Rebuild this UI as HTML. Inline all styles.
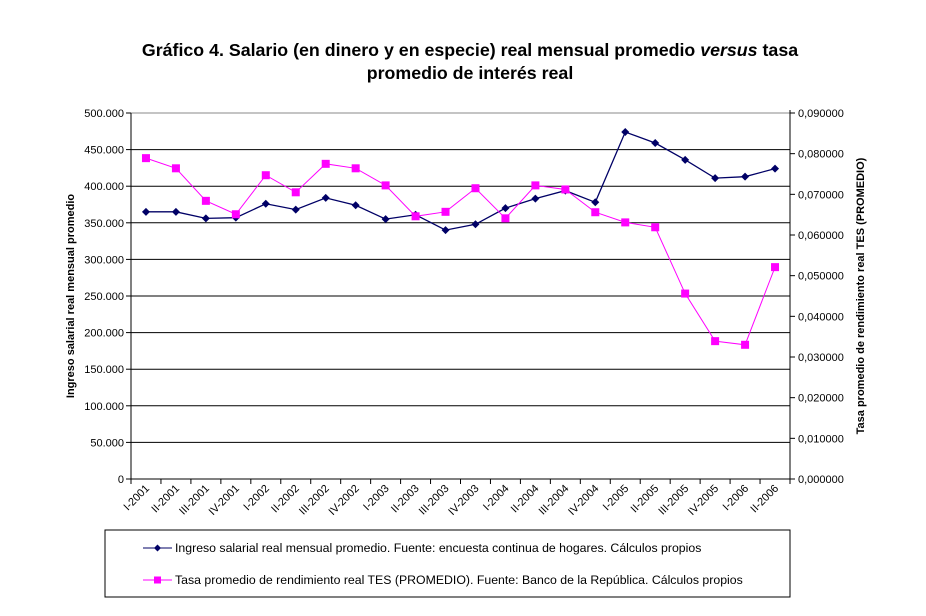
<!DOCTYPE html>
<html><head><meta charset="utf-8"><style>
body{margin:0;background:#fff;font-family:"Liberation Sans",Arial,sans-serif}
svg text{font-family:"Liberation Sans",Arial,sans-serif}
</style></head><body>
<svg id="c" width="926" height="611" xmlns="http://www.w3.org/2000/svg">
<text x="470" y="56" text-anchor="middle" font-size="17.8" font-weight="bold">Gráfico 4. Salario (en dinero y en especie) real mensual promedio <tspan font-style="italic">versus</tspan> tasa</text>
<text x="470" y="79" text-anchor="middle" font-size="17.8" font-weight="bold">promedio de interés real</text>
<g id="grid"></g><g id="axes"></g><g id="marks"></g>
<text transform="translate(74,296) rotate(-90)" text-anchor="middle" font-size="11" font-weight="bold">Ingreso salarial real mensual promedio</text>
<text transform="translate(864,296) rotate(-90)" text-anchor="middle" font-size="11" font-weight="bold">Tasa promedio de rendimiento real TES (PROMEDIO)</text>
<rect x="105" y="530" width="685" height="67" fill="none" stroke="#000" stroke-width="1"/>
<g>
<line x1="143" y1="548" x2="172" y2="548" stroke="#000066" stroke-width="1"/>
<path d="M157.5 544.5 L161 548 L157.5 551.5 L154 548Z" fill="#000066"/>
<text x="175" y="552" font-size="12.3">Ingreso salarial real mensual promedio. Fuente: encuesta continua de hogares. Cálculos propios</text>
</g>
<g>
<line x1="143" y1="580" x2="172" y2="580" stroke="#ff00ff" stroke-width="1"/>
<rect x="154" y="576.5" width="7" height="7" fill="#ff00ff"/>
<text x="175" y="584" font-size="12.3">Tasa promedio de rendimiento real TES (PROMEDIO). Fuente: Banco de la República. Cálculos propios</text>
</g>
</svg>
<script>
const categories=["I-2001","II-2001","III-2001","IV-2001","I-2002","II-2002","III-2002","IV-2002","I-2003","II-2003","III-2003","IV-2003","I-2004","II-2004","III-2004","IV-2004","I-2005","II-2005","III-2005","IV-2005","I-2006","II-2006"];
const salary=[365000,365000,356000,357000,376000,368000,384000,374000,355000,361000,340000,348000,370000,383000,394000,378000,474000,459000,436000,411000,413000,424000];
const tes=[0.0789,0.0764,0.0684,0.0651,0.0747,0.0705,0.0775,0.0764,0.0722,0.0646,0.0657,0.0715,0.0641,0.0722,0.0712,0.0656,0.0631,0.0619,0.0456,0.0339,0.0330,0.0521];
const leftTicks=["0","50.000","100.000","150.000","200.000","250.000","300.000","350.000","400.000","450.000","500.000"];
const rightTicks=["0,000000","0,010000","0,020000","0,030000","0,040000","0,050000","0,060000","0,070000","0,080000","0,090000"];
const X0=131,X1=790,Y0=479,Y1=113,NS="http://www.w3.org/2000/svg";
const n=categories.length,step=(X1-X0)/n;
const xs=i=>X0+step*(i+0.5);
const yl=v=>Y0-(v/500000)*(Y0-Y1);
const yr=v=>Y0-(v/0.09)*(Y0-Y1);
function mk(tag,attrs,parent,txt){const e=document.createElementNS(NS,tag);for(const k in attrs)e.setAttribute(k,attrs[k]);if(txt!==undefined)e.textContent=txt;document.getElementById(parent).appendChild(e);return e;}
leftTicks.forEach((t,i)=>{const v=i*50000,y=yl(v);
 if(i>0){const g=mk('line',{x1:X0,x2:X1,y1:y,y2:y,stroke:i==10?'#888':'#000','stroke-width':1},'grid');
 
 }
 mk('line',{x1:X0-5,x2:X0,y1:y,y2:y,stroke:'#000'},'axes');
 const l=mk('text',{x:X0-7,y:y+4,'text-anchor':'end','font-size':11},'axes',t);
 
 });
rightTicks.forEach((t,i)=>{const y=yr(i*0.01);
 mk('line',{x1:X1,x2:X1+5,y1:y,y2:y,stroke:'#000'},'axes');
 const l=mk('text',{x:X1+8,y:y+4,'font-size':11},'axes',t);
 
 });
mk('line',{x1:X0,x2:X0,y1:Y1,y2:Y0,stroke:'#000'},'axes');
mk('line',{x1:X1,x2:X1,y1:Y1-3,y2:Y0+3,stroke:'#000'},'axes');
mk('line',{x1:X0,x2:X1,y1:Y0,y2:Y0,stroke:'#000'},'axes');
for(let i=0;i<=n;i++)mk('line',{x1:X0+step*i,x2:X0+step*i,y1:Y0,y2:Y0+5,stroke:'#000'},'axes');
categories.forEach((c,i)=>{const x=xs(i)+4,y=Y0+10;
 const l=mk('text',{x:x,y:y,'text-anchor':'end','font-size':11,transform:`rotate(-45 ${x} ${y})`},'axes',c);
 
 });
const sp=mk('polyline',{points:salary.map((v,i)=>xs(i)+','+yl(v)).join(' '),fill:'none',stroke:'#000066','stroke-width':1.3},'marks');


const tp=mk('polyline',{points:tes.map((v,i)=>xs(i)+','+yr(v)).join(' '),fill:'none',stroke:'#ff00ff','stroke-width':1},'marks');


salary.forEach((v,i)=>{const x=xs(i),y=yl(v);
 const p=mk('path',{d:`M${x} ${y-4}L${x+4} ${y}L${x} ${y+4}L${x-4} ${y}Z`,fill:'#000066'},'marks');
 
 });
tes.forEach((v,i)=>{const x=xs(i),y=yr(v);
 const r=mk('rect',{x:x-4,y:y-4,width:8,height:8,fill:'#ff00ff'},'marks');
 
 });
</script>
</body></html>
